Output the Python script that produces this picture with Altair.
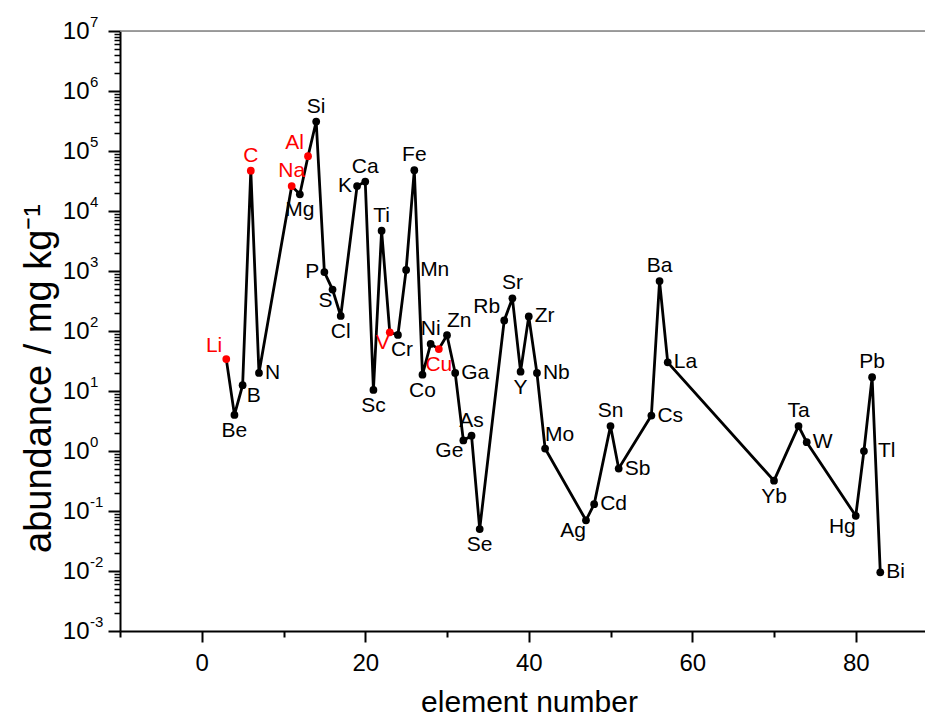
import altair as alt
import pandas as pd

# ---- data ----
symbols = ["Li", "Be", "B", "C", "N", "Na", "Mg", "Al", "Si", "P", "S", "Cl", "K", "Ca",
           "Sc", "Ti", "V", "Cr", "Mn", "Fe", "Co", "Ni", "Cu", "Zn", "Ga", "Ge", "As", "Se",
           "Rb", "Sr", "Y", "Zr", "Nb", "Mo", "Ag", "Cd", "Sn", "Sb", "Cs", "Ba", "La",
           "Yb", "Ta", "W", "Hg", "Tl", "Pb", "Bi"]
numbers = [3, 4, 5, 6, 7, 11, 12, 13, 14, 15, 16, 17, 19, 20,
           21, 22, 23, 24, 25, 26, 27, 28, 29, 30, 31, 32, 33, 34,
           37, 38, 39, 40, 41, 42, 47, 48, 50, 51, 55, 56, 57,
           70, 73, 74, 80, 81, 82, 83]
abundance = [34, 4.0, 12.5, 47000, 20, 26000, 19000, 82000, 310000, 960, 490, 178, 26000, 31000,
             10.4, 4700, 95, 86, 1040, 48000, 18.7, 61, 50, 85, 20, 1.5, 1.8, 0.05,
             150, 350, 21, 175, 20, 1.1, 0.07, 0.13, 2.6, 0.51, 3.9, 680, 30,
             0.32, 2.6, 1.4, 0.083, 1.0, 17, 0.0095]
highlighted = ["Li", "C", "Na", "Al", "V", "Cu"]
# where each element label sits relative to its point (compass code)
label_side = ["NW", "S", "SE", "N", "E", "N", "S", "NW", "N", "W", "SW", "S", "W", "N",
              "S", "N", "SW", "SS", "EE", "N", "S", "N", "S", "NE", "E", "SW", "N", "S",
              "NW", "N", "S", "E", "E", "NE", "SW", "E", "N", "E", "E", "N", "E",
              "S", "N", "E", "SW", "EE", "N", "E"]
decades = [-3, -2, -1, 0, 1, 2, 3, 4, 5, 6, 7]
x_ticks = [-10, 0, 10, 20, 30, 40, 50, 60, 70, 80]

df = pd.DataFrame({"symbol": symbols, "Z": numbers, "abundance": abundance, "side": label_side})
df["group"] = ["red" if s in highlighted else "black" for s in symbols]

y_values = [float(f"{m}e{e}") for e in decades[:-1] for m in range(1, 10)] + [float(f"1e{decades[-1]}")]
is_major = "abs(log(datum.value)/LN10 - round(log(datum.value)/LN10)) < 1e-6"

FONT = "Liberation Sans"

x_enc = alt.X(
    "Z:Q",
    scale=alt.Scale(domain=[-10, 88.47], nice=False, zero=False),
    axis=alt.Axis(
        values=x_ticks, grid=False,
        labelExpr="datum.value % 20 == 0 ? datum.label : ''",
        tickSize={"condition": {"test": "datum.value % 20 == 0", "value": 11}, "value": 6},
        tickWidth=2, tickColor="black", domainColor="black", domainWidth=2,
        labelFont=FONT, labelFontSize=24, labelColor="black", labelPadding=9,
        title="element number", titleFont=FONT, titleFontSize=30, titleFontWeight="normal",
        titleColor="black", titleX=409, titleY=80, titleAlign="center",
        titleBaseline="alphabetic", titleAnchor="start",
    ),
)
y_enc = alt.Y(
    "abundance:Q",
    scale=alt.Scale(type="log", domain=[1e-3, 1e7], nice=False),
    axis=alt.Axis(
        values=y_values, grid=False,
        labelExpr=f"({is_major}) ? '10' : ''",
        tickSize={"condition": {"test": is_major, "value": 12}, "value": 6},
        tickWidth={"condition": {"test": is_major, "value": 2}, "value": 1.5},
        tickColor="black", domainColor="black", domainWidth=2,
        labelFont=FONT, labelFontSize=24, labelColor="black", labelPadding=19,
        labelBaseline="middle",
        title="abundance / mg kg⁻¹", titleFont=FONT, titleFontSize=38, titleFontWeight="normal",
        titleColor="black", titleX=-70, titleY=347, titleAngle=270, titleAlign="center",
        titleBaseline="alphabetic", titleAnchor="start",
    ),
)
color_enc = alt.Color("group:N", scale=alt.Scale(domain=["black", "red"], range=["#000000", "#ff0000"]),
                      legend=None)

base = alt.Chart(df)

line = base.mark_line(color="black", strokeWidth=2.8).encode(x=x_enc, y=y_enc, order="Z:Q")
points = base.mark_circle(size=60, opacity=1).encode(x=x_enc, y=y_enc, color=color_enc)

offsets = {
    "N": ("center", 0, -15),
    "S": ("center", 0, 16),
    "SS": ("left", -7, 15),
    "E": ("left", 6, 0),
    "EE": ("left", 14, 0),
    "W": ("right", -5, 0),
    "NE": ("left", 0, -14),
    "NW": ("right", -4, -13),
    "SE": ("left", 4, 11),
    "SW": ("right", 0, 11),
}
label_layers = []
for side, (align, dx, dy) in offsets.items():
    label_layers.append(
        base.transform_filter(alt.datum.side == side)
        .mark_text(align=align, baseline="middle", dx=dx, dy=dy, font=FONT, fontSize=21)
        .encode(x=x_enc, y=y_enc, text="symbol:N", color=color_enc)
    )

top_line = alt.Chart(pd.DataFrame({"v": [float(f"1e{decades[-1]}")]})).mark_rule(
    color="#808080", strokeWidth=1.5
).encode(y=alt.Y("v:Q"))

exp_df = pd.DataFrame({"v": [float(f"1e{e}") for e in decades], "exp": [str(e) for e in decades]})
exponents = alt.Chart(exp_df).mark_text(
    align="left", baseline="middle", dx=-30, dy=-9, font=FONT, fontSize=15, color="black"
).encode(x=alt.datum(-10), y=alt.Y("v:Q"), text="exp:N")

chart = alt.layer(top_line, line, points, *label_layers, exponents).properties(
    width=805, height=600,
    padding={"left": 120, "top": 31, "right": 0, "bottom": 87},
    autosize=alt.AutoSizeParams(type="none"),
).configure_view(stroke=None).configure(background="white")

chart.save("out.html", embed_options={"renderer": "svg", "actions": False})
